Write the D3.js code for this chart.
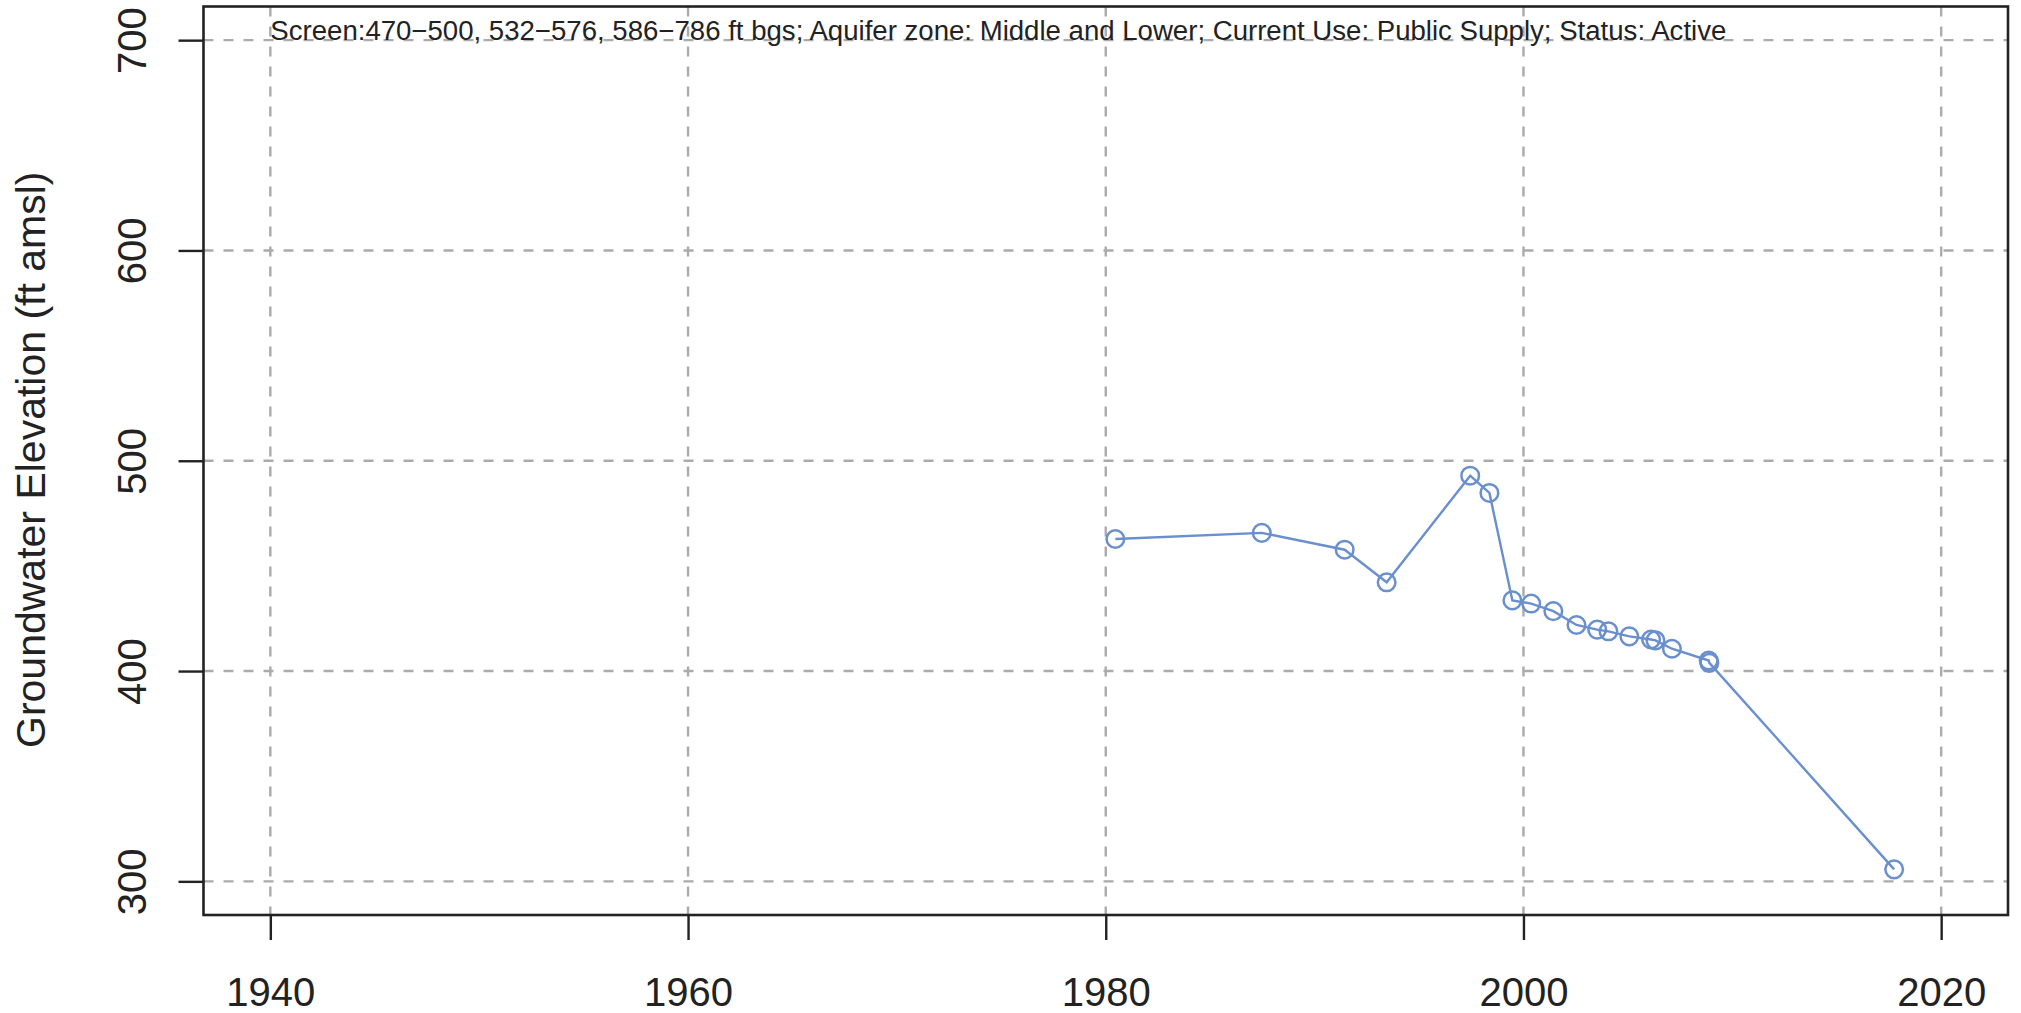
<!DOCTYPE html>
<html>
<head>
<meta charset="utf-8">
<script src="https://cdn.jsdelivr.net/npm/d3@7"></script>
<style>
    body { margin: 0; background: #fff; }
    svg { display: block; font-family: "Liberation Sans", Arial, sans-serif; }
</style>
</head>
<body>
<div id="wrapper"></div>
<script>
// measurement dates (decimal years) and groundwater elevations (ft amsl)
const years = [1980.46, 1987.47, 1991.44, 1993.45, 1997.45, 1998.37, 1999.47,
    2000.37, 2001.43, 2002.54, 2003.53, 2004.07, 2005.07, 2006.11, 2006.32,
    2007.11, 2008.87, 2008.90, 2017.75];
const elevation = [462.8, 465.7, 457.7, 442.2, 492.9, 484.7, 433.6,
    432.1, 428.5, 421.9, 419.7, 418.9, 416.5, 415.0, 414.6,
    410.6, 405.0, 403.9, 305.7];

const xTicks = [1940, 1960, 1980, 2000, 2020];
const yTicks = [300, 400, 500, 600, 700];
const xLimits = [1940, 2020];
const yLimits = [300, 700];

const note = "Screen:470\u2212500, 532\u2212576, 586\u2212786 ft bgs; Aquifer zone: Middle and Lower; Current Use: Public Supply; Status: Active";
const yTitle = "Groundwater Elevation (ft amsl)";

function build() {
    var dimension = {
        width: 2021,
        height: 1013,
        margin: { top: 6.5, right: 13, bottom: 98, left: 203.5 }
    };
    dimension.boundedWidth = dimension.width - dimension.margin.left - dimension.margin.right;
    dimension.boundedHeight = dimension.height - dimension.margin.top - dimension.margin.bottom;

    // R-style 4% padding around the limits
    const padX = (xLimits[1] - xLimits[0]) * 0.04;
    const padY = (yLimits[1] - yLimits[0]) * 0.04;

    const x = d3.scaleLinear()
        .domain([xLimits[0] - padX, xLimits[1] + padX])
        .range([0, dimension.boundedWidth]);
    const y = d3.scaleLinear()
        .domain([yLimits[0] - padY, yLimits[1] + padY])
        .range([dimension.boundedHeight, 0]);

    const svg = d3.select("#wrapper")
        .append("svg")
        .attr("width", dimension.width)
        .attr("height", dimension.height);

    const bounds = svg.append("g")
        .attr("transform", `translate(${dimension.margin.left},${dimension.margin.top})`);

    // grid
    bounds.append("g")
        .selectAll("line")
        .data(xTicks)
        .enter()
        .append("line")
        .attr("x1", d => x(d)).attr("x2", d => x(d))
        .attr("y1", 0).attr("y2", dimension.boundedHeight)
        .attr("stroke", "#ababab")
        .attr("stroke-width", 2.4)
        .attr("stroke-dasharray", "10,10");

    bounds.append("g")
        .selectAll("line")
        .data(yTicks)
        .enter()
        .append("line")
        .attr("x1", 0).attr("x2", dimension.boundedWidth)
        .attr("y1", d => y(d)).attr("y2", d => y(d))
        .attr("stroke", "#ababab")
        .attr("stroke-width", 2.4)
        .attr("stroke-dasharray", "10,10");

    // annotation
    bounds.append("text")
        .attr("x", x(1940))
        .attr("y", y(700) - 0.5)
        .attr("font-size", 27)
        .attr("textLength", 1456)
        .attr("lengthAdjust", "spacingAndGlyphs")
        .attr("fill", "#222")
        .text(note);

    // series
    const pts = years.map((yr, i) => ({ yr, v: elevation[i] }));
    const line = d3.line()
        .x(d => x(d.yr))
        .y(d => y(d.v));

    bounds.append("path")
        .datum(pts)
        .attr("d", line)
        .attr("fill", "none")
        .attr("stroke", "#6a8fcf")
        .attr("stroke-width", 2.4);

    bounds.append("g")
        .selectAll("circle")
        .data(pts)
        .enter()
        .append("circle")
        .attr("cx", d => x(d.yr))
        .attr("cy", d => y(d.v))
        .attr("r", 8.8)
        .attr("fill", "none")
        .attr("stroke", "#6a8fcf")
        .attr("stroke-width", 2.5);

    // axes
    const xAxis = d3.axisBottom(x)
        .tickValues(xTicks)
        .tickFormat(d3.format("d"))
        .tickSize(25)
        .tickPadding(38);
    const gx = bounds.append("g")
        .attr("transform", `translate(0,${dimension.boundedHeight})`)
        .call(xAxis);
    gx.select(".domain").remove();
    gx.selectAll("line").attr("stroke", "#222").attr("stroke-width", 2.4);
    gx.selectAll("text").attr("font-size", 40).attr("fill", "#222")
        .attr("font-family", "Liberation Sans, Arial, sans-serif");

    const yAxis = d3.axisLeft(y)
        .tickValues(yTicks)
        .tickFormat(d3.format("d"))
        .tickSize(25)
        .tickPadding(0);
    const gy = bounds.append("g").call(yAxis);
    gy.select(".domain").remove();
    gy.selectAll("line").attr("stroke", "#222").attr("stroke-width", 2.4);
    gy.selectAll("text")
        .attr("font-size", 40).attr("fill", "#222")
        .attr("font-family", "Liberation Sans, Arial, sans-serif")
        .attr("x", null).attr("dy", null)
        .attr("text-anchor", "middle")
        .attr("transform", "translate(-58,0) rotate(-90)");

    // frame
    bounds.append("rect")
        .attr("width", dimension.boundedWidth)
        .attr("height", dimension.boundedHeight)
        .attr("fill", "none")
        .attr("stroke", "#222")
        .attr("stroke-width", 2.6);

    // y title
    svg.append("text")
        .attr("transform", `translate(45,${dimension.margin.top + dimension.boundedHeight / 2 - 1}) rotate(-90)`)
        .attr("text-anchor", "middle")
        .attr("font-size", 41)
        .attr("fill", "#222")
        .text(yTitle);
}
build();
</script>
</body>
</html>
